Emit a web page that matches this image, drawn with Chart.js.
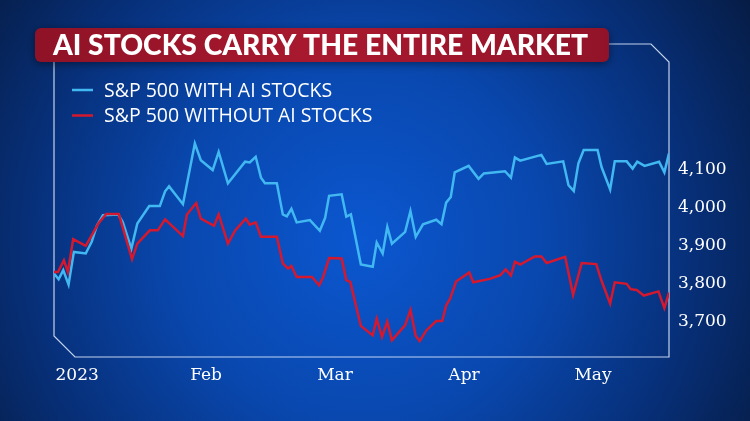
<!DOCTYPE html>
<html>
<head>
<meta charset="utf-8">
<script src="https://cdn.jsdelivr.net/npm/chart.js@4/dist/chart.umd.min.js"></script>
<style>
  html, body { margin: 0; padding: 0; background: #061a40; }
  canvas { display: block; }
</style>
</head>
<body>
<canvas id="chart" width="750" height="421"></canvas>
<script>
const title = 'AI STOCKS CARRY THE ENTIRE MARKET';
const seriesNames = ['S&P 500 WITH AI STOCKS', 'S&P 500 WITHOUT AI STOCKS'];

// x = trading sessions since the first session of 2023
const daysWith = [0, 0.7, 1.4, 2.2, 3.0, 4.8, 5.7, 6.5, 7.4, 9.7, 10.4, 11.7, 12.6, 14.4, 16.0, 16.8, 17.4,
  19.5, 21.3, 22.2, 24.0, 24.9, 26.3, 28.9, 29.6, 30.5, 31.3, 31.9, 33.7, 34.6, 35.2, 35.9, 36.7,
  38.7, 40.2, 41.0, 41.6, 43.5, 44.2, 44.9, 46.4, 48.2, 48.8, 49.7, 50.4, 51.1, 53.1, 53.9, 54.7,
  55.8, 57.8, 58.6, 59.3, 60.0, 60.6, 62.7, 64.2, 65.0, 68.2, 69.1, 69.7, 70.5, 73.7, 74.5, 77.0,
  77.8, 78.6, 79.3, 80.1, 82.2, 82.8, 84.1, 84.8, 86.6, 87.5, 88.2, 89.3, 91.5, 92.3, 93.0];
const withAI = [3827, 3812, 3836, 3798, 3884, 3880, 3911, 3954, 3981, 3983, 3963, 3893, 3959, 4005, 4005, 4044, 4057,
  4010, 4170, 4126, 4100, 4148, 4065, 4122, 4120, 4135, 4080, 4065, 4065, 3983, 3978, 3998, 3962,
  3968, 3940, 3974, 4032, 4036, 3977, 3983, 3851, 3845, 3909, 3880, 3950, 3906, 3937, 3992, 3924,
  3957, 3969, 3957, 4014, 4029, 4094, 4111, 4077, 4091, 4097, 4080, 4133, 4125, 4140, 4116, 4123,
  4060, 4045, 4118, 4153, 4153, 4108, 4049, 4123, 4123, 4104, 4122, 4111, 4122, 4094, 4144];

const daysWithout = [0, 0.6, 1.5, 2.1, 2.9, 4.8, 5.7, 6.7, 7.9, 9.8, 11.8, 12.6, 14.5, 15.7, 16.8,
  19.5, 20.1, 21.5, 22.2, 24.2, 24.9, 26.3, 27.4, 29.0, 29.6, 30.5, 31.3, 33.7, 34.6, 35.4, 35.9,
  36.7, 39.0, 40.1, 40.7, 41.6, 43.5, 44.2, 44.8, 46.4, 48.2, 48.8, 49.6, 50.4, 51.1, 53.1, 53.9,
  54.7, 55.3, 56.3, 57.8, 58.7, 59.3, 59.9, 60.8, 62.8, 63.4, 65.9, 67.5, 68.3, 69.1, 69.7, 70.5,
  72.7, 73.7, 74.5, 77.3, 78.5, 79.8, 82.0, 82.8, 84.1, 84.8, 86.6, 87.2, 88.1, 89.2, 91.4, 92.3, 93.0];
const withoutAI = [3831, 3831, 3862, 3831, 3918, 3900, 3928, 3959, 3984, 3984, 3865, 3906, 3941, 3941, 3970,
  3926, 3983, 4013, 3972, 3953, 3983, 3906, 3941, 3972, 3956, 3962, 3924, 3924, 3854, 3840, 3847,
  3818, 3818, 3796, 3818, 3868, 3867, 3810, 3805, 3689, 3664, 3708, 3660, 3700, 3651, 3691, 3731,
  3663, 3649, 3677, 3702, 3702, 3743, 3761, 3806, 3830, 3804, 3813, 3823, 3838, 3822, 3858, 3851,
  3872, 3872, 3855, 3871, 3771, 3855, 3852, 3808, 3748, 3804, 3800, 3786, 3784, 3769, 3780, 3736, 3777];

const monthTicks = [3.5, 23, 42.5, 62, 81.5];
const monthLabels = ['2023', 'Feb', 'Mar', 'Apr', 'May'];
const yTicks = [3700, 3800, 3900, 4000, 4100];

const toPoints = (xs, ys) => xs.map((x, i) => ({ x: x, y: ys[i] }));

const backdrop = {
  id: 'backdrop',
  beforeDraw(chart) {
    const ctx = chart.ctx;
    const g = ctx.createRadialGradient(360, 240, 0, 360, 240, 470);
    g.addColorStop(0, '#0b57d0');
    g.addColorStop(0.4, '#0947ad');
    g.addColorStop(0.7, '#07307a');
    g.addColorStop(1, '#061a40');
    ctx.save();
    ctx.fillStyle = g;
    ctx.fillRect(0, 0, chart.width, chart.height);
    ctx.restore();
  }
};

const panel = {
  id: 'panel',
  beforeDatasetsDraw(chart) {
    const { ctx, chartArea: a } = chart;
    ctx.save();
    ctx.strokeStyle = 'rgba(215,228,250,0.9)';
    ctx.lineWidth = 1.2;
    ctx.beginPath();
    ctx.moveTo(a.left, a.top - 18);
    ctx.lineTo(a.right - 18, a.top - 18);
    ctx.lineTo(a.right, a.top);
    ctx.lineTo(a.right, a.bottom);
    ctx.lineTo(a.left + 21, a.bottom);
    ctx.lineTo(a.left, a.bottom - 21);
    ctx.closePath();
    ctx.stroke();
    ctx.restore();
  }
};

const overlay = {
  id: 'overlay',
  afterDraw(chart) {
    const ctx = chart.ctx;
    // title banner
    ctx.save();
    ctx.shadowColor = 'rgba(0,0,0,0.45)';
    ctx.shadowBlur = 8;
    ctx.shadowOffsetY = 2;
    const g = ctx.createLinearGradient(35, 0, 609, 0);
    g.addColorStop(0, '#8f1226');
    g.addColorStop(0.5, '#a9192f');
    g.addColorStop(1, '#921329');
    ctx.fillStyle = g;
    ctx.beginPath();
    ctx.roundRect(35, 28, 574, 34, 6);
    ctx.fill();
    ctx.restore();

    ctx.save();
    ctx.font = '900 28px Lato';
    ctx.fillStyle = '#ffffff';
    ctx.textBaseline = 'middle';
    const w = ctx.measureText(title).width;
    ctx.translate(53, 46);
    ctx.scale(535 / w, 1);
    ctx.fillText(title, 0, 0);
    ctx.restore();

    // legend
    ctx.save();
    ctx.font = '19.5px "Open Sans"';
    ctx.textBaseline = 'middle';
    chart.data.datasets.forEach((ds, i) => {
      const y = 90 + i * 25.5;
      ctx.strokeStyle = ds.borderColor;
      ctx.lineWidth = 2.5;
      ctx.beginPath();
      ctx.moveTo(72, y);
      ctx.lineTo(93, y);
      ctx.stroke();
      ctx.fillStyle = '#ffffff';
      ctx.fillText(ds.label, 104, y + 1);
    });
    ctx.restore();
  }
};

new Chart(document.getElementById('chart'), {
  type: 'line',
  data: {
    datasets: [
      {
        label: seriesNames[0],
        data: toPoints(daysWith, withAI),
        borderColor: '#41b8f2',
        borderWidth: 2.5,
        pointRadius: 0,
        tension: 0,
        order: 1
      },
      {
        label: seriesNames[1],
        data: toPoints(daysWithout, withoutAI),
        borderColor: '#d6182f',
        borderWidth: 2.5,
        pointRadius: 0,
        tension: 0,
        order: 0
      }
    ]
  },
  options: {
    responsive: false,
    animation: false,
    devicePixelRatio: 1,
    layout: { padding: { top: 62, left: 54, right: 0, bottom: 0 } },
    plugins: {
      legend: { display: false },
      tooltip: { enabled: false }
    },
    scales: {
      x: {
        type: 'linear',
        min: 0,
        max: 93,
        grid: { display: false, drawTicks: false },
        border: { display: false },
        afterFit(scale) { scale.height = 64; },
        afterBuildTicks(scale) { scale.ticks = monthTicks.map(v => ({ value: v })); },
        ticks: {
          autoSkip: false,
          maxRotation: 0,
          padding: 8,
          color: '#ffffff',
          font: { family: '"DejaVu Serif"', size: 17 },
          callback: (v, i) => monthLabels[i]
        }
      },
      y: {
        position: 'right',
        min: 3607,
        max: 4385,
        grid: { display: false, drawTicks: false },
        border: { display: false },
        afterFit(scale) { scale.width = 81; },
        afterBuildTicks(scale) { scale.ticks = yTicks.map(v => ({ value: v })); },
        ticks: {
          padding: 9,
          color: '#ffffff',
          font: { family: '"DejaVu Serif"', size: 17 },
          callback: v => v.toLocaleString('en-US')
        }
      }
    }
  },
  plugins: [backdrop, panel, overlay]
});
</script>
</body>
</html>
